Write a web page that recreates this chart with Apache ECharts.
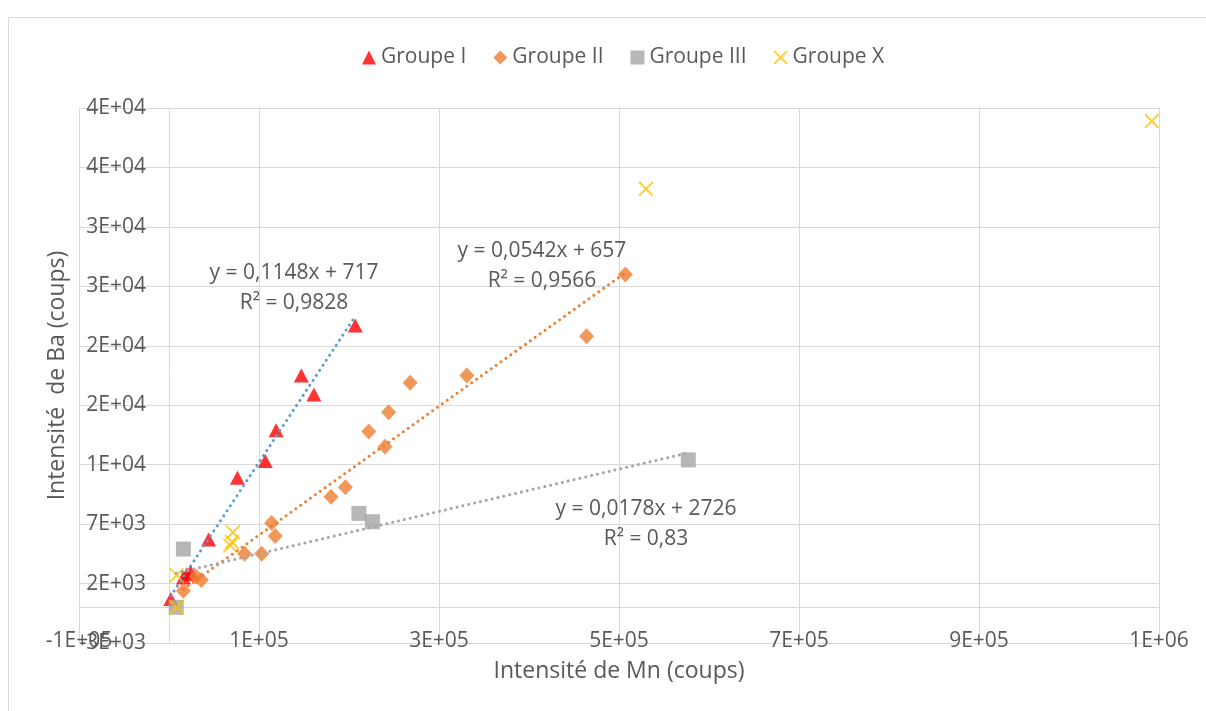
<!DOCTYPE html>
<html>
<head>
<meta charset="utf-8">
<script src="https://cdn.jsdelivr.net/npm/echarts@6/dist/echarts.min.js"></script>
<style>
html,body{margin:0;padding:0;background:#fff;}
#chart{width:1206px;height:711px;}
</style>
</head>
<body>
<div id="chart"></div>
<script>
// ---- data ----
const groupNames = ['Groupe I', 'Groupe II', 'Groupe III', 'Groupe X'];

const groupI_x = [2000, 16000, 20000, 24000, 44000, 76000, 107000, 119000, 147000, 161000, 207000];
const groupI_y = [700, 2500, 2800, 3000, 5700, 10900, 12300, 14900, 19500, 17900, 23700];

const groupII_x = [16000, 30000, 36000, 84000, 103000, 114000, 118000, 180000, 196000, 222000, 240000, 244000, 268000, 331000, 464000, 507000];
const groupII_y = [1400, 2600, 2300, 4500, 4500, 7100, 6000, 9300, 10100, 14800, 13500, 16400, 18900, 19500, 22800, 28000];

const groupIII_x = [8000, 16000, 211000, 226000, 577000];
const groupIII_y = [0, 4900, 7900, 7200, 12400];

const groupX_x = [8500, 8500, 68000, 70000, 71000, 530000, 1092000];
const groupX_y = [0, 2700, 5200, 5500, 6300, 35200, 40900];

// linear trendlines (Groupe I, II, III) as printed on the chart
const trendSlopes = [0.1148, 0.0542, 0.0178];
const trendIntercepts = [717, 657, 2726];
const trendSlopeText = ['0,1148', '0,0542', '0,0178'];
const trendR2Text = ['0,9828', '0,9566', '0,83'];

// axis ticks
const xTicks = { min: -100000, max: 1100000, interval: 200000 };
const yTicks = { min: -3000, max: 42000, interval: 5000 };

// ---- helpers ----
function zip(xs, ys) { return xs.map((x, i) => [x, ys[i]]); }
function sci(v) {
  if (v === 0) return '0E+00';
  const s = v.toExponential(0); // e.g. "-3e+3"
  const m = s.split('e');
  const exp = parseInt(m[1], 10);
  return m[0] + 'E' + (exp < 0 ? '-' : '+') + String(Math.abs(exp)).padStart(2, '0');
}
function trendData(xs, k) {
  const lo = Math.min(...xs), hi = Math.max(...xs);
  return [[lo, trendSlopes[k] * lo + trendIntercepts[k]], [hi, trendSlopes[k] * hi + trendIntercepts[k]]];
}

const TXT = '#595959';
const GRID = '#D9D9D9';
const FONT = '"Open Sans", "Liberation Sans", sans-serif';
const xShape = 'path://M0,1.8L1.8,0L10,8.2L18.2,0L20,1.8L11.8,10L20,18.2L18.2,20L10,11.8L1.8,20L0,18.2L8.2,10Z';

const colors = ['#FF0000', '#ED7D31', '#A5A5A5', '#FFC000'];
const trendColors = ['#5B9BD5', '#ED7D31', '#A5A5A5'];
const eqAnchors = [[138900, 26860], [414400, 28710], [530000, 7050]];
const groupXs = [groupI_x, groupII_x, groupIII_x];

const scatterSeries = [
  { name: groupNames[0], type: 'scatter', data: zip(groupI_x, groupI_y), symbol: 'triangle', symbolSize: [15, 14], itemStyle: { color: colors[0] }, z: 3 },
  { name: groupNames[1], type: 'scatter', data: zip(groupII_x, groupII_y), symbol: 'diamond', symbolSize: [15, 16], itemStyle: { color: colors[1] }, z: 3 },
  { name: groupNames[2], type: 'scatter', data: zip(groupIII_x, groupIII_y), symbol: 'rect', symbolSize: 15, itemStyle: { color: colors[2] }, z: 3 },
  { name: groupNames[3], type: 'scatter', data: zip(groupX_x, groupX_y), symbol: xShape, symbolSize: 15, itemStyle: { color: colors[3] }, z: 3 }
];

const trendSeries = [0, 1, 2].map(k => ({
  name: 'trend' + k,
  type: 'line',
  data: trendData(groupXs[k], k),
  symbol: 'none',
  silent: true,
  z: 4,
  lineStyle: { color: trendColors[k], width: 3, type: [0.01, 6], cap: 'round' },
  markPoint: {
    symbol: 'circle',
    symbolSize: 1,
    itemStyle: { color: 'rgba(0,0,0,0)' },
    silent: true,
    data: [{
      coord: eqAnchors[k],
      label: {
        show: true,
        position: 'inside',
        formatter: 'y = ' + trendSlopeText[k] + 'x + ' + trendIntercepts[k] + '\nR² = ' + trendR2Text[k],
        color: TXT,
        fontSize: 21,
        lineHeight: 30,
        fontFamily: FONT,
        align: 'center'
      }
    }]
  }
}));

const chart = echarts.init(document.getElementById('chart'), null, { renderer: 'canvas' });
chart.setOption({
  animation: false,
  backgroundColor: '#fff',
  color: colors,
  textStyle: { fontFamily: FONT },
  graphic: [{
    type: 'rect',
    shape: { x: 8.5, y: 17.5, width: 1220, height: 720 },
    style: { fill: 'none', stroke: GRID, lineWidth: 1 },
    silent: true, z: -10
  }],
  legend: {
    data: groupNames,
    top: 42,
    left: 357,
    itemGap: 27,
    itemWidth: 14,
    itemHeight: 14,
    textStyle: { color: TXT, fontSize: 21, fontFamily: FONT }
  },
  grid: { left: 79, right: 47, top: 108, bottom: 68, containLabel: false, outerBoundsMode: 'none' },
  xAxis: {
    type: 'value',
    min: xTicks.min, max: xTicks.max, interval: xTicks.interval,
    name: 'Intensité de Mn (coups)',
    nameLocation: 'middle',
    nameGap: 17,
    nameTextStyle: { color: TXT, fontSize: 23, fontFamily: FONT },
    axisLine: { show: true, onZero: true, lineStyle: { color: GRID, width: 1 } },
    axisTick: { show: false },
    axisLabel: { color: TXT, fontSize: 21, fontFamily: FONT, margin: -12, formatter: sci, showMinLabel: true, showMaxLabel: true },
    splitLine: { show: true, lineStyle: { color: GRID, width: 1 } }
  },
  yAxis: {
    type: 'value',
    min: yTicks.min, max: yTicks.max, interval: yTicks.interval,
    name: 'Intensité  de Ba (coups)',
    nameLocation: 'middle',
    nameRotate: 90,
    nameGap: 7,
    nameTextStyle: { color: TXT, fontSize: 23, fontFamily: FONT },
    axisLine: { show: true, onZero: true, lineStyle: { color: GRID, width: 1 } },
    axisTick: { show: false },
    axisLabel: { color: TXT, fontSize: 21, fontFamily: FONT, margin: -67, formatter: sci, showMinLabel: true, showMaxLabel: true },
    splitLine: { show: true, lineStyle: { color: GRID, width: 1 } }
  },
  series: scatterSeries.concat(trendSeries)
});
</script>
</body>
</html>
